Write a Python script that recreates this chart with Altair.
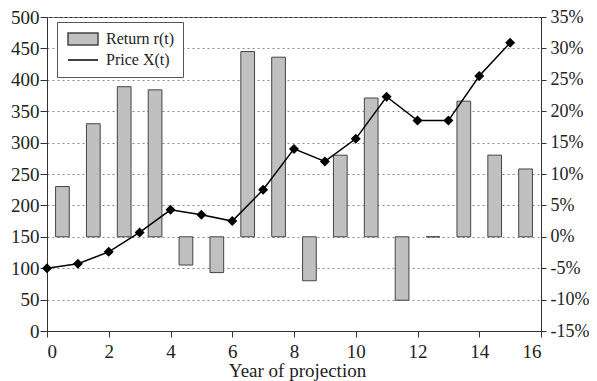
import altair as alt
import pandas as pd

# Price X(t) at year t
years = list(range(16))
price = [100, 107, 126, 157, 193, 185, 175, 225, 290, 270, 306, 373, 335, 335, 406, 459]

# Return r(t) in %, drawn at year t + 0.5
ret_years = list(range(16))
returns = [8.0, 18.0, 23.9, 23.4, -4.5, -5.7, 29.5, 28.6, -7.0, 13.0, 22.1, -10.1, 0.0, 21.6, 13.0, 10.8]

series = ["Return r(t)", "Price X(t)"]
x_ticks = [0, 2, 4, 6, 8, 10, 12, 14, 16]
left_ticks = [0, 50, 100, 150, 200, 250, 300, 350, 400, 450, 500]
right_ticks = [-15, -10, -5, 0, 5, 10, 15, 20, 25, 30, 35]

df_p = pd.DataFrame({"t": years, "X": price})
df_r = pd.DataFrame({"t": ret_years, "r": returns})
df_leg = pd.DataFrame({"s": series, "t": [0, 0], "X": [0, 0]})

FONT = "Liberation Serif"
TXT = "#222222"

xscale = alt.Scale(domain=[0, 16], nice=False)
xaxis = alt.Axis(values=x_ticks, title="Year of projection", grid=False,
                 tickSize=6, labelPadding=20, labelBaseline="alphabetic",
                 titleBaseline="alphabetic", titleY=45, titleX=250,
                 titleFontWeight="normal", labelOverlap=False)

bars = alt.Chart(df_r).transform_calculate(
    x0="datum.t + 0.5 - 0.222", x1="datum.t + 0.5 + 0.222"
).mark_bar(stroke="#444444", strokeWidth=1, fill="#c0c0c0", opacity=1).encode(
    x=alt.X("x0:Q", scale=xscale, axis=xaxis),
    x2="x1:Q",
    y=alt.Y("r:Q", scale=alt.Scale(domain=[-15, 35], nice=False),
            axis=alt.Axis(orient="right", values=right_ticks, title=None, grid=False,
                          tickSize=5, labelPadding=4, labelOverlap=False,
                          labelFontSize=18, labelExpr="datum.value + '%'")),
    y2=alt.datum(0),
)

lscale = alt.Scale(domain=[0, 500], nice=False)
laxis = alt.Axis(orient="left", values=left_ticks, title=None, grid=True,
                 gridDash=[2, 3], gridColor="#888888", gridWidth=1,
                 tickSize=7, labelPadding=1, labelOverlap=False)

line = alt.Chart(df_p).mark_line(strokeWidth=1.5, color="black").encode(
    x=alt.X("t:Q", scale=xscale),
    y=alt.Y("X:Q", scale=lscale, axis=laxis),
)

pts = alt.Chart(df_p).mark_point(shape="diamond", filled=True, size=100, color="black", opacity=1).encode(
    x=alt.X("t:Q", scale=xscale),
    y=alt.Y("X:Q", scale=lscale, axis=laxis),
)

legend = alt.Legend(
    title=None, orient="none", legendX=10, legendY=5,
    strokeColor="#555555", fillColor="white", padding=9,
    labelFont=FONT, labelFontSize=16, labelColor=TXT, labelOffset=15,
    symbolSize=144, symbolOffset=9, rowPadding=4, symbolOpacity=1,
)
leg = alt.Chart(df_leg).transform_filter("false").mark_point(size=144, opacity=1, strokeWidth=1.3).encode(
    x=alt.X("t:Q", scale=xscale),
    y=alt.Y("X:Q", scale=lscale, axis=laxis),
    shape=alt.Shape("s:N", scale=alt.Scale(domain=series, range=["M-2.5,-1H2.5V1H-2.5Z", "M-2.5,0H2.5"]), legend=legend),
    fill=alt.Fill("s:N", scale=alt.Scale(domain=series, range=["#c0c0c0", "transparent"]), legend=legend),
    stroke=alt.Stroke("s:N", scale=alt.Scale(domain=series, range=["#444444", "#000000"]), legend=legend),
)

left = alt.layer(line, pts, leg)
chart = alt.layer(bars, left).resolve_scale(y="independent").properties(
    width=494, height=314,
    autosize=alt.AutoSizeParams(type="none"),
    padding={"left": 39, "top": 9, "right": 48, "bottom": 50},
).configure_view(stroke="#333333", strokeWidth=1).configure_axis(
    labelFont=FONT, labelFontSize=19, labelColor=TXT,
    titleFont=FONT, titleFontSize=19, titleColor=TXT,
    domainColor="#333333", tickColor="#333333", domainWidth=1, tickWidth=1,
)

chart.save("out.html", embed_options={"renderer": "svg", "actions": False})
